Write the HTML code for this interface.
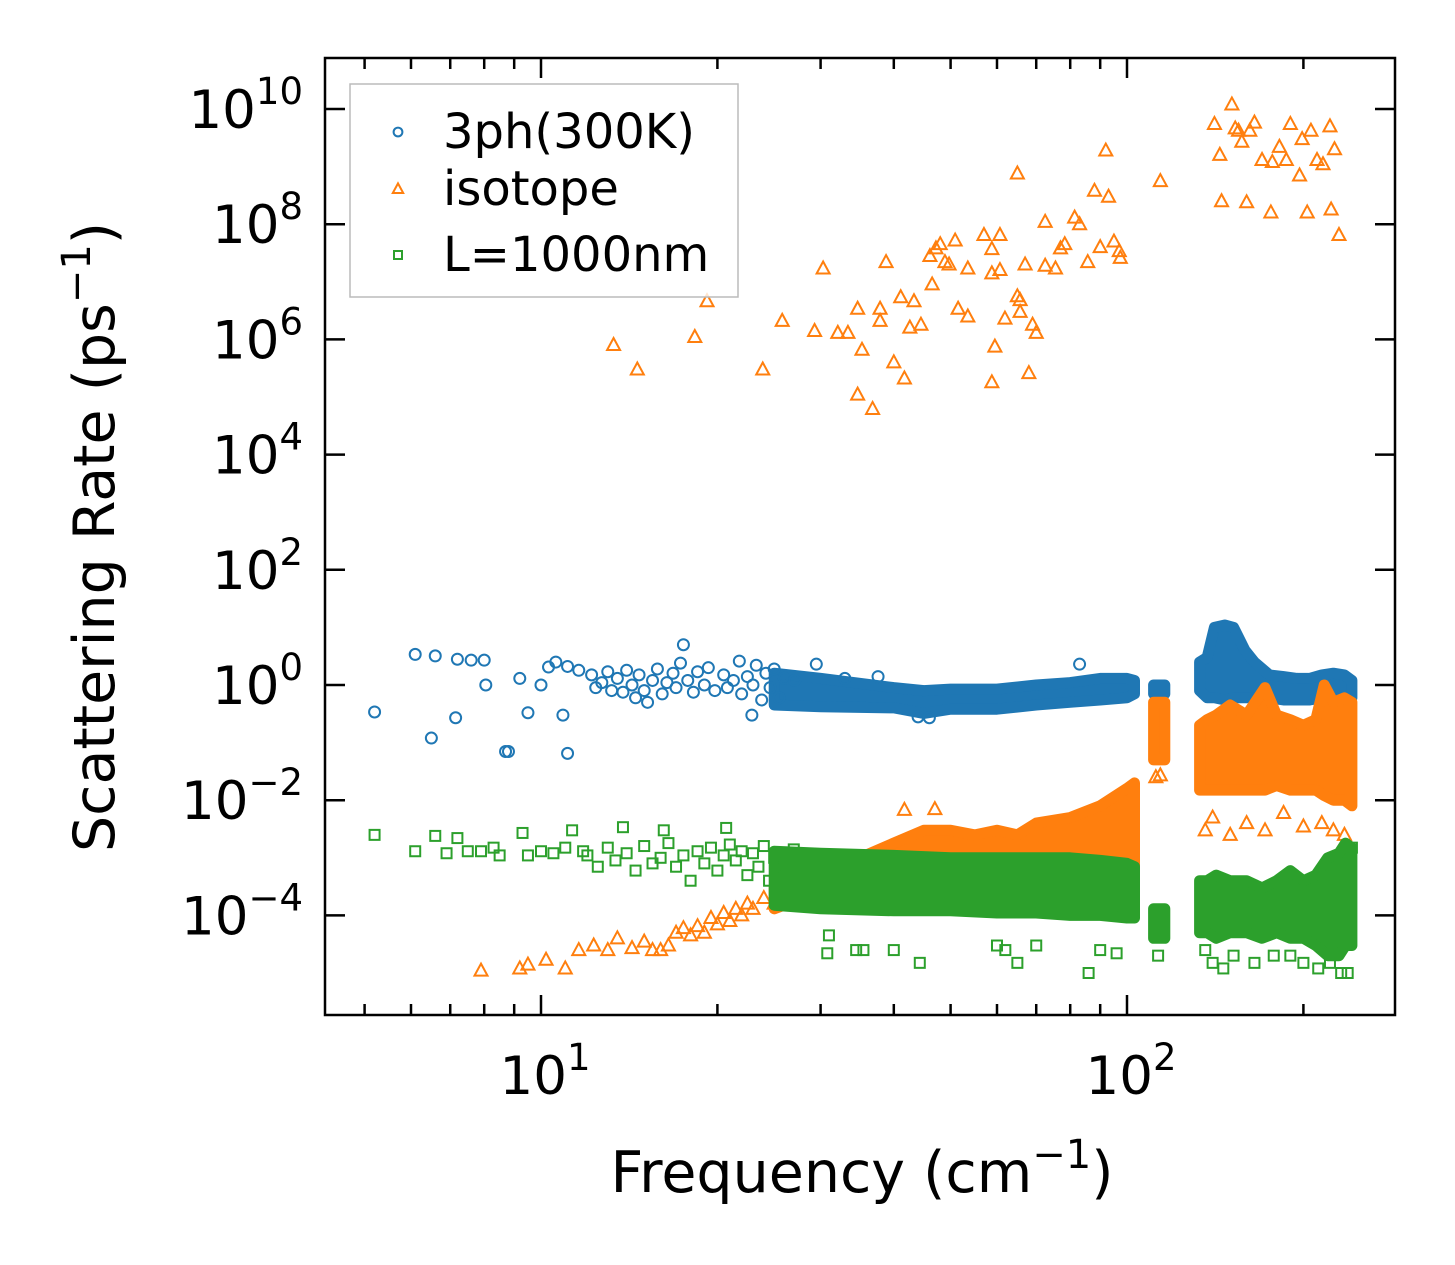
<!DOCTYPE html>
<html><head><meta charset="utf-8"><style>
body{margin:0;background:#fff;}
svg{display:block;font-family:"DejaVu Sans","Liberation Sans",sans-serif;}
</style></head><body>
<svg id="chart" width="1455" height="1265" viewBox="0 0 1455 1265" xmlns="http://www.w3.org/2000/svg">
<rect x="0" y="0" width="1455" height="1265" fill="#fff"/>
<g id="bands"></g>
<g id="marks"></g>
</svg>
<script>
// ---- data ----
const blueFreq=[5.2,6.1,6.5,6.6,7.15,7.2,7.6,8.0,8.05,8.7,8.8,9.2,9.5,10,10.3,10.6,10.9,11.1,11.1,11.6,
12.2,12.4,12.7,13.0,13.2,13.5,13.8,14.0,14.3,14.5,14.7,15.0,15.2,15.5,15.8,16.1,16.4,16.8,17.0,17.3,17.5,17.8,18.2,18.5,19.0,19.3,19.8,20.5,20.8,21.3,21.8,22.0,22.5,22.9,23.0,23.3,23.8,24.2,24.6,25.0,25.5,26,27.1,29.5,33,37.6,83,44,46];
const blueRate=[0.34,3.4,0.12,3.2,0.27,2.8,2.7,2.7,1.0,0.07,0.07,1.3,0.33,1.0,2.05,2.5,0.3,0.065,2.1,1.8,
1.5,0.9,1.1,1.7,0.8,1.3,0.75,1.8,1.0,0.6,1.5,0.8,0.5,1.2,1.9,0.7,1.1,1.6,0.9,2.4,5.0,1.2,0.75,1.7,1.0,2.0,0.8,1.5,0.9,1.2,2.6,0.7,1.4,0.3,1.0,2.2,0.55,1.6,0.9,1.9,0.6,1.3,1.2,2.3,1.3,1.4,2.3,0.28,0.27];
const blueBandFreq=[[25,30,40,45,50,60,70,80,90,100,103],[111,116],[133,137,141,147,152,159,165,175,185,195,205,215,225,235,242]];
const blueBandLo=[[0.45,0.42,0.4,0.32,0.38,0.38,0.45,0.5,0.55,0.6,0.7],[0.7,0.7],[0.8,0.6,0.6,0.55,0.6,0.6,0.6,0.6,0.55,0.55,0.55,0.6,0.55,0.6,0.6]];
const blueBandHi=[[1.6,1.3,0.9,0.8,0.85,0.85,1.0,1.1,1.3,1.3,1.2],[1.0,1.0],[2.5,3,10,11,10,4,2.5,1.5,1.4,1.3,1.3,1.5,1.6,1.5,1.2]];

const isoFreq=[13.3,14.6,18.3,19.2,23.9,25.8,29.3,30.3,32.1,33.4,34.7,34.7,35.3,36.8,37.9,37.9,38.8,40.0,41.1,41.7,42.6,43.3,44.5,46.1,46.5,47.2,48.0,48.9,49.7,50.9,51.5,53.5,53.5,57.0,58.8,58.8,58.8,59.5,60.7,60.7,61.9,65,65,65.7,65.7,67,68,69,70,72.5,72.5,75.5,77,78.3,81.4,83,85.7,88,90,92,93,95,97,97.4,114,141,144,145,151,153,155,157,160,162,165,170,176,177,182,187,190,197,199,203,206,211,216,222,223,226,230,
7.9,9.2,9.5,10.2,11.0,11.6,12.3,13,13.5,14.3,15,15.5,16,16.5,17,17.5,18,18.5,19,19.5,20,20.5,21,21.5,22,22.5,23,24,25,26,41.7,47,112,114,136,140,150,160,172,185,200,215,225,235];
const isoRate=[8e5,3e5,1.1e6,4.6e6,3e5,2.1e6,1.4e6,1.7e7,1.3e6,1.3e6,3.4e6,1.1e5,6.6e5,6.2e4,3.4e6,2.1e6,2.2e7,4e5,5.4e6,2.1e5,1.6e6,4.6e6,1.8e6,2.8e7,9e6,3.8e7,4.5e7,2.2e7,2e7,5.2e7,3.4e6,1.7e7,2.5e6,6.5e7,3.7e7,1.4e7,1.8e5,7.5e5,6.5e7,1.6e7,2.3e6,7.6e8,5.6e6,4.8e6,3e6,2e7,2.6e5,1.8e6,1.3e6,1.9e7,1.1e8,1.7e7,3.8e7,4.5e7,1.3e8,1e8,2.2e7,3.8e8,4e7,1.9e9,3e8,5e7,3.4e7,2.6e7,5.6e8,5.5e9,1.6e9,2.5e8,1.2e10,4.6e9,4.2e9,2.7e9,2.4e8,4.2e9,5.8e9,1.3e9,1.6e8,1.2e9,2.2e9,1.3e9,5.5e9,7e8,3e9,1.6e8,4.2e9,1.3e9,1.1e9,5e9,1.8e8,2e9,6.5e7,
1.1e-5,1.2e-5,1.4e-5,1.7e-5,1.2e-5,2.5e-5,3e-5,2.5e-5,4e-5,2.7e-5,3.5e-5,2.5e-5,2.5e-5,3e-5,5e-5,6e-5,4.5e-5,6.5e-5,5e-5,9e-5,7e-5,1.1e-4,8e-5,1.3e-4,1e-4,1.6e-4,1.3e-4,2e-4,1.6e-4,2.5e-4,6.8e-3,7e-3,0.025,0.027,3e-3,5e-3,2.5e-3,4e-3,3e-3,6e-3,3.5e-3,4e-3,3e-3,2.5e-3];
const isoBandFreq=[[25,28,35,40,45,50,55,60,65,70,80,90,100,103],[111,116],[133,137,142,150,160,172,180,190,200,210,217,225,235,242]];
const isoBandLo=[[1.3e-4,2e-4,2e-4,2e-4,2e-4,2e-4,2e-4,2e-4,2e-4,2e-4,2e-4,2e-4,2e-4,2e-4],[0.05,0.05],[0.015,0.015,0.015,0.015,0.015,0.015,0.018,0.015,0.015,0.015,0.012,0.01,0.01,0.008]];
const isoBandHi=[[3e-4,5e-4,1e-3,1.8e-3,3e-3,3e-3,2.5e-3,3e-3,2.5e-3,4e-3,5e-3,8e-3,1.6e-2,2e-2],[0.5,0.5],[0.2,0.25,0.3,0.45,0.3,0.9,0.3,0.25,0.2,0.25,1.0,0.5,0.6,0.5]];

const grnFreq=[5.2,6.1,6.6,6.9,7.2,7.5,7.9,8.3,8.5,9.3,9.5,10.0,10.5,11.0,11.3,11.8,
12.0,12.5,13,13.4,14,14.5,15,15.5,16,16.5,17,17.5,18,18.5,19,19.5,20,20.5,21,21.5,22,22.5,23,23.5,24,24.5,25,26,27,13.8,16.2,20.7,
30.8,31,34.5,35.5,40,44.3,60,62,65,70,86,90,96,113,136,140,146,152,165,178,190,200,212,222,232,238,242];
const grnRate=[2.5e-3,1.3e-3,2.4e-3,1.2e-3,2.2e-3,1.3e-3,1.3e-3,1.5e-3,1.1e-3,2.7e-3,1.1e-3,1.3e-3,1.2e-3,1.5e-3,3e-3,1.3e-3,
1.1e-3,7e-4,1.5e-3,9e-4,1.2e-3,6e-4,1.6e-3,8e-4,1.0e-3,1.8e-3,7e-4,1.1e-3,4e-4,1.3e-3,8e-4,1.5e-3,6e-4,1.1e-3,1.7e-3,9e-4,1.3e-3,5e-4,1.2e-3,7e-4,1.6e-3,4e-4,1.0e-3,7e-4,1.4e-3,3.4e-3,3e-3,3.3e-3,
2.2e-5,4.5e-5,2.5e-5,2.5e-5,2.5e-5,1.5e-5,3e-5,2.5e-5,1.5e-5,3e-5,1e-5,2.5e-5,2.2e-5,2e-5,2.5e-5,1.5e-5,1.2e-5,2e-5,1.5e-5,2e-5,2e-5,1.5e-5,1.2e-5,1.5e-5,1e-5,1e-5,1.5e-3];
const grnBandFreq=[[25,30,40,50,60,70,80,90,100,103],[111,116],[133,137,142,150,160,170,180,190,200,210,220,230,236,242]];
const grnBandLo=[[1.5e-4,1.3e-4,1.2e-4,1.2e-4,1.1e-4,1.1e-4,1.0e-4,1.0e-4,0.9e-4,0.9e-4],[4e-5,4e-5],[5e-5,5e-5,4e-5,5e-5,5e-5,4e-5,5e-5,4e-5,4e-5,3e-5,2e-5,2e-5,3e-5,3e-5]];
const grnBandHi=[[1.3e-3,1.2e-3,1.1e-3,1e-3,1e-3,1e-3,1e-3,9e-4,8e-4,7e-4],[1.3e-4,1.3e-4],[4e-4,4e-4,5e-4,4e-4,4e-4,3e-4,4e-4,6e-4,4e-4,5e-4,1e-3,1.2e-3,1.8e-3,1.5e-3]];

const yTickExp=[-4,-2,0,2,4,6,8,10];
const xTickExp=[1,2];

// ---- axes ----
const L=325,R=1395,T=58,B=1015;
const X=f=>541+586*(Math.log10(f)-1);
const Y=r=>685-57.6*Math.log10(r);
const NS='http://www.w3.org/2000/svg';
const svg=document.getElementById('chart');
function mk(tag,attrs,parent){const e=document.createElementNS(NS,tag);for(const k in attrs)e.setAttribute(k,attrs[k]);parent.appendChild(e);return e;}
const C={b:'#1f77b4',o:'#ff7f0e',g:'#2ca02c'};

function marker(type,cx,cy,col,parent,s){
  s=s||1;let e;
  if(type==='c')e=mk('circle',{cx,cy,r:5.5*s,fill:'none',stroke:col,'stroke-width':2},parent);
  else if(type==='t')e=mk('polygon',{points:`${cx},${cy-7*s} ${cx-6.5*s},${cy+5*s} ${cx+6.5*s},${cy+5*s}`,fill:'none',stroke:col,'stroke-width':2},parent);
  else e=mk('rect',{x:cx-5*s,y:cy-5*s,width:10*s,height:10*s,fill:'none',stroke:col,'stroke-width':2},parent);
  return e;
}
function drawSeries(F,V,BF,BL,BH,type,col,name){
  const g=mk('g',{},svg);
  
  
  BF.forEach((fa,i)=>{
    const pts=[];
    fa.forEach((f,j)=>pts.push(X(f).toFixed(1)+','+Y(BH[i][j]).toFixed(1)));
    for(let j=fa.length-1;j>=0;j--)pts.push(X(fa[j]).toFixed(1)+','+Y(BL[i][j]).toFixed(1));
    const p=mk('polygon',{points:pts.join(' '),fill:col,stroke:col,'stroke-width':11,'stroke-linejoin':'round'},g);
    
    
  });
  F.forEach((f,i)=>{
    const e=marker(type,X(f),Y(V[i]),col,g);
    
    
  });
}
drawSeries(blueFreq,blueRate,blueBandFreq,blueBandLo,blueBandHi,'c',C.b,'3ph');
drawSeries(isoFreq,isoRate,isoBandFreq,isoBandLo,isoBandHi,'t',C.o,'isotope');
drawSeries(grnFreq,grnRate,grnBandFreq,grnBandLo,grnBandHi,'s',C.g,'boundary');

// axes frame & ticks
const ax=mk('g',{},svg);
const fr=mk('rect',{x:L,y:T,width:R-L,height:B-T,fill:'none',stroke:'#000','stroke-width':2.5},ax);


yTickExp.forEach(e=>{
  const y=Y(Math.pow(10,e));
  mk('line',{x1:L,x2:L+20,y1:y,y2:y,stroke:'#000','stroke-width':2.5},ax);
  mk('line',{x1:R,x2:R-20,y1:y,y2:y,stroke:'#000','stroke-width':2.5},ax);
  const t=mk('text',{x:303,y:y+19,'text-anchor':'end','font-size':53,fill:'#000'},ax);
  
  
  t.innerHTML='10<tspan dy="-24" font-size="37">'+(e<0?'\u2212'+(-e):e)+'</tspan>';
});
for(let d=0;d<3;d++){for(let m=1;m<10;m++){
  const f=m*Math.pow(10,d);const x=X(f);
  if(x<L||x>R)continue;
  const len=m===1?20:11;
  mk('line',{x1:x,x2:x,y1:B,y2:B-len,stroke:'#000','stroke-width':2.5},ax);
  mk('line',{x1:x,x2:x,y1:T,y2:T+len,stroke:'#000','stroke-width':2.5},ax);
}}
xTickExp.forEach(e=>{
  const x=X(Math.pow(10,e));
  const t=mk('text',{x:x+4,y:1094,'text-anchor':'middle','font-size':53,fill:'#000'},ax);
  
  
  t.innerHTML='10<tspan dy="-24" font-size="37">'+e+'</tspan>';
});
const xt=mk('text',{x:862,y:1192,'text-anchor':'middle','font-size':57,fill:'#000'},ax);


xt.innerHTML='Frequency (cm<tspan dy="-24" font-size="40">\u22121</tspan><tspan dy="24">)</tspan>';
const yt=mk('text',{x:0,y:0,'text-anchor':'middle','font-size':57,fill:'#000',transform:'translate(114,537) rotate(-90)'},ax);


yt.innerHTML='Scattering Rate (ps<tspan dy="-24" font-size="40">\u22121</tspan><tspan dy="24">)</tspan>';

// legend
const lg=mk('g',{},svg);


mk('rect',{x:350,y:84,width:388,height:213,fill:'#fff','fill-opacity':0.8,stroke:'#bbb','stroke-width':1.5},lg);
[['c',C.b,'3ph(300K)',132],['t',C.o,'isotope',189],['s',C.g,'L=1000nm',255]].forEach(([tp,col,lab,y])=>{
  const ent=mk('g',{},lg);
  
  
  marker(tp,398,y,col,ent,0.8);
  const t=mk('text',{x:443,y:y+16,'font-size':48,fill:'#000'},ent);
  t.textContent=lab;
});
</script>
</body></html>
